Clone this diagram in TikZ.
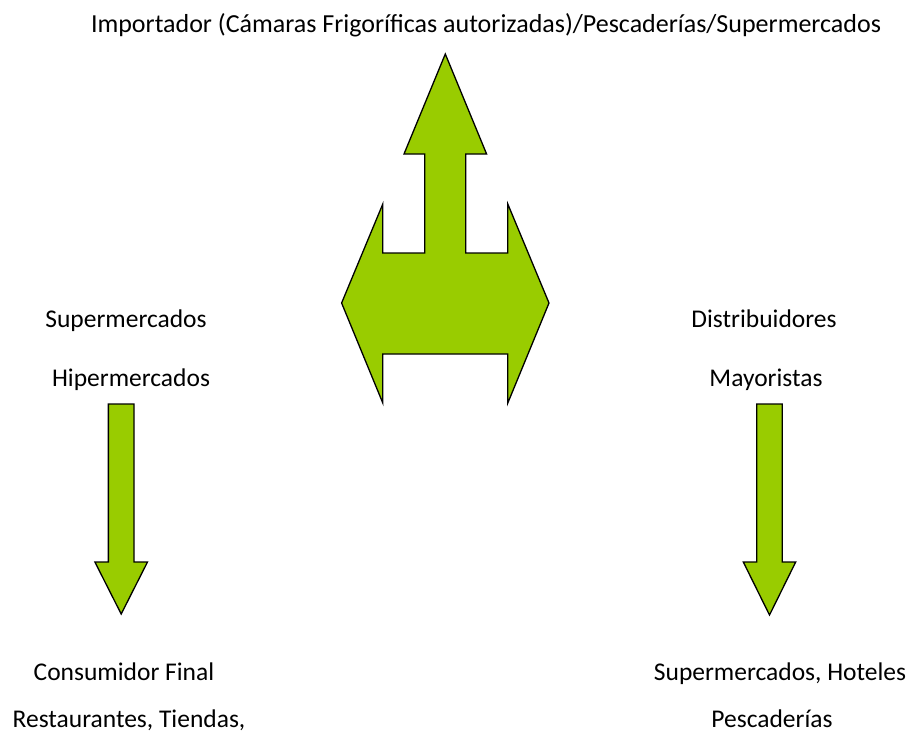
\documentclass[tikz,border=0pt]{standalone}
\usepackage{fontspec}
\setmainfont{Carlito}
\usetikzlibrary{positioning, calc}
\definecolor{arrowgreen}{HTML}{99CC00}

\begin{document}
\begin{tikzpicture}[
    x=1pt, y=-1pt,
    label/.style={
        anchor=base,
        inner sep=0pt,
        font=\fontsize{25.5}{30}\selectfont
    },
    blockarrow/.style={
        fill=arrowgreen,
        draw=black,
        line width=1.3pt,
        line join=miter
    }
]
    \useasboundingbox (0,0) rectangle (913,740);

    % Top
    \node[label, font=\fontsize{26}{30}\selectfont] (importador) at (486,32) {Importador (Cámaras Frigoríficas autorizadas)/Pescaderías/Supermercados};

    % Left column
    \node[label] (super) at (126,327) {Supermercados};
    \node[label] (hiper) at (131,386) {Hipermercados};
    \node[label] (consumidor) at (124,680) {Consumidor Final};
    \node[label] (restaurantes) at (129,727) {Restaurantes, Tiendas,};

    % Right column
    \node[label] (distrib) at (764,327) {Distribuidores};
    \node[label] (mayoristas) at (766,386) {Mayoristas};
    \node[label] (superhot) at (780,680) {Supermercados, Hoteles};
    \node[label] (pescaderias) at (772,727) {Pescaderías};

    % Central arrow
    \coordinate (hub) at (445.3,303);
    \draw[blockarrow, shift={(hub)}] (0,-249) -- (41.3,-149) -- (20.5,-149) -- (20.5,-50)
        -- (62.5,-50) -- (62.5,-99) -- (103.7,0) -- (62.5,100) -- (62.5,51)
        -- (-62.5,51) -- (-62.5,100) -- (-103.7,0) -- (-62.5,-99) -- (-62.5,-50)
        -- (-20.5,-50) -- (-20.5,-149) -- (-41.3,-149) -- cycle;

    % Down arrows
    \coordinate (ltop) at (121.2,404);
    \coordinate (rtop) at (769.5,404);
    \draw[blockarrow, shift={(ltop)}] (-12.85,0) -- (12.85,0) -- (12.85,158) -- (26.3,158)
        -- (0,210) -- (-26.3,158) -- (-12.85,158) -- cycle;
    \draw[blockarrow, shift={(rtop)}] (-12.8,0) -- (12.8,0) -- (12.8,158) -- (26.2,158)
        -- (0,211) -- (-26.2,158) -- (-12.8,158) -- cycle;
\end{tikzpicture}
\end{document}
